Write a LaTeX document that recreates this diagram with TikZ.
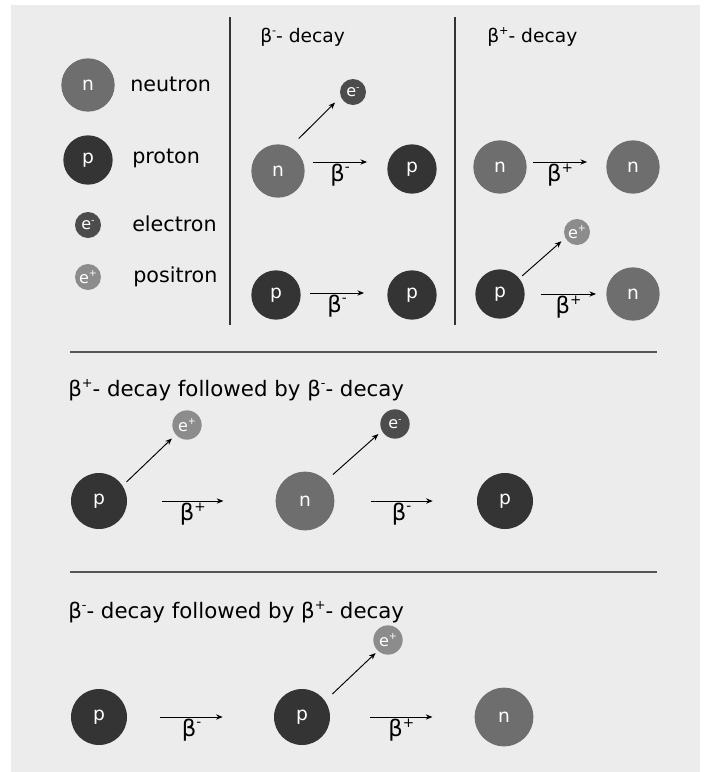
\documentclass[tikz,border=0pt]{standalone}
\usepackage{fontspec}
\setmainfont{DejaVu Sans}
\usetikzlibrary{arrows.meta}
\definecolor{ngrey}{RGB}{110,110,110}
\definecolor{pgrey}{RGB}{52,52,52}
\definecolor{emgrey}{RGB}{76,76,76}
\definecolor{epgrey}{RGB}{140,140,140}
\definecolor{bggrey}{RGB}{236,236,236}
\definecolor{rulegrey}{RGB}{85,85,85}
\newcommand{\upsign}[1]{\raisebox{0.42em}{\scalebox{0.6}{#1}}}
\newcommand{\betam}{β\upsign{-}}
\newcommand{\betap}{β\upsign{+}}

\begin{document}
\begin{tikzpicture}[
    x=0.75pt, y=-0.75pt,
    every node/.style={font=\fontsize{15.5}{18}\selectfont},
    nucleon/.style={circle, inner sep=0pt, text=white,
        font=\fontsize{14}{16}\selectfont},
    neutron/.style={nucleon, fill=ngrey, minimum size=#1},
    neutron/.default=40pt,
    proton/.style={nucleon, fill=pgrey, minimum size=#1},
    proton/.default=37pt,
    lepton/.style={circle, inner sep=0pt, text=white,
        font=\fontsize{12}{14}\selectfont},
    electron/.style={lepton, fill=emgrey, minimum size=#1},
    electron/.default=19.5pt,
    positron/.style={lepton, fill=epgrey, minimum size=#1},
    positron/.default=19.5pt,
    legtxt/.style={anchor=west, inner sep=0pt},
    head/.style={anchor=west, inner sep=0pt, font=\fontsize{14}{16}\selectfont},
    sectitle/.style={anchor=west, inner sep=0pt, font=\fontsize{16}{18}\selectfont},
    react/.style={-{Stealth[length=5pt,width=4pt]}, line width=0.7pt},
    blab/.style={below, inner sep=1pt, font=\fontsize{17}{19}\selectfont},
    vsep/.style={draw=pgrey, line width=1.1pt},
    hsep/.style={draw=rulegrey, line width=1.5pt},
]
\useasboundingbox (0,0) rectangle (708,772);
\fill[bggrey] (11,5) rectangle (700,772);

% ===== separators =====
\draw[vsep] (230,17) -- (230,325);
\draw[vsep] (455,17) -- (455,325);
\draw[hsep] (70,352) -- (657,352);
\draw[hsep] (70,572) -- (657,572);

% ===== legend =====
\node[neutron]  (ln)  at (88,85)  {n};
\node[proton]   (lp)  at (88,160) {p};
\node[electron] (lem) at (88,225) {e\upsign{-}};
\node[positron] (lep) at (88,277) {e\upsign{+}};

\node[legtxt] (tn)  at (130,84)  {neutron};
\node[legtxt] (tp)  at (132,158) {proton};
\node[legtxt] (tem) at (132,224) {electron};
\node[legtxt] (tep) at (133,277) {positron};

% ===== beta minus column =====
\node[head] (hm) at (260,37) {\betam- decay};

\node[neutron]  (mn1) at (278,171) {n};
\node[electron] (me1) at (353,92)  {e\upsign{-}};
\node[proton]   (mp1) at (412,169) {p};

\node[proton] (mp2) at (276,295) {p};
\node[proton] (mp3) at (412,295) {p};

\draw[react, shorten <=9pt, shorten >=6pt] (mn1.63) -- (me1.202);
\draw[react] ([shift={(8,-9)}]mn1.east) -- node[blab] (mb1) {\betam}
    ([shift={(-20,-7)}]mp1.west);
\draw[react] ([shift={(9,-2)}]mp2.east) -- node[blab] (mb2) {\betam}
    ([shift={(-23,-2)}]mp3.west);

% ===== beta plus column =====
\node[head] (hp) at (487,37) {\betap- decay};

\node[neutron] (pn1) at (500,167) {n};
\node[neutron] (pn2) at (633,167) {n};

\node[positron] (pe3) at (577,232) {e\upsign{+}};
\node[proton]   (pp3) at (500,294) {p};
\node[neutron]  (pn3) at (633,294) {n};

\draw[react] ([shift={(6,-5)}]pn1.east) -- node[blab] (pb1) {\betap}
    ([shift={(-19,-5)}]pn2.west);
\draw[react, shorten <=2.8pt, shorten >=3.7pt] (pp3.39) -- (pe3.207);
\draw[react] ([xshift=16*0.75pt]pp3.east) -- node[blab] (pb2) {\betap}
    ([xshift=-10*0.75pt]pn3.west);

% ===== beta plus followed by beta minus =====
\node[sectitle] (ta) at (68,390) {\betap- decay followed by \betam- decay};

\node[proton=42pt]  (sa1)  at (99,501)  {p};
\node[positron=22pt] (sae1) at (187,425) {e\upsign{+}};
\node[neutron=44pt] (sa2)  at (305,501) {n};
\node[electron=22pt] (sae2) at (395,424) {e\upsign{-}};
\node[proton=42pt]  (sa3)  at (505,501) {p};

\draw[react, shorten <=4pt, shorten >=4pt] (sa1.33) -- (sae1.221);
\draw[react, shorten <=6.7pt, shorten >=3.4pt] (sa2.44) -- (sae2.208);
\draw[react] ([xshift=35*0.75pt]sa1.east) -- node[blab] (ab1) {\betap}
    ([xshift=-52*0.75pt]sa2.west);
\draw[react] ([xshift=36*0.75pt]sa2.east) -- node[blab] (ab2) {\betam}
    ([xshift=-44*0.75pt]sa3.west);

% ===== beta minus followed by beta plus =====
\node[sectitle] (tb) at (68,612) {\betam- decay followed by \betap- decay};

\node[proton=42pt]   (sb1) at (99,717)  {p};
\node[proton=42pt]   (sb2) at (302,717) {p};
\node[positron=22pt] (sbe) at (388,640) {e\upsign{+}};
\node[neutron=44pt]  (sb3) at (504,717) {n};

\draw[react, shorten <=7.5pt, shorten >=2.3pt] (sb2.35) -- (sbe.227);
\draw[react] ([xshift=33*0.75pt]sb1.east) -- node[blab] (bb1) {\betam}
    ([xshift=-51*0.75pt]sb2.west);
\draw[react] ([xshift=40*0.75pt]sb2.east) -- node[blab] (bb2) {\betap}
    ([xshift=-42*0.75pt]sb3.west);

\end{tikzpicture}
\end{document}
